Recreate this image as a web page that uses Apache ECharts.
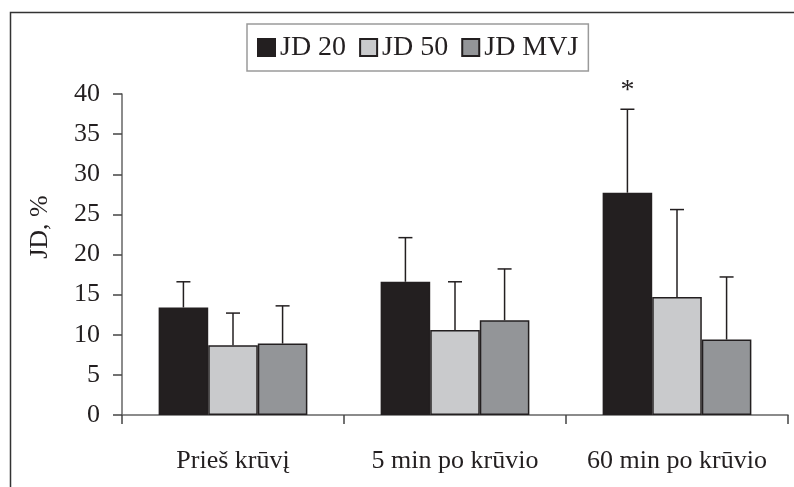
<!DOCTYPE html>
<html>
<head>
<meta charset="utf-8">
<script src="https://cdn.jsdelivr.net/npm/echarts@6/dist/echarts.min.js"></script>
<style>html,body{margin:0;padding:0;background:#fff;}#c{width:794px;height:487px;}</style>
</head>
<body>
<div id="c"></div>
<script>
const categories = ['Prieš krūvį', '5 min po krūvio', '60 min po krūvio'];
const seriesNames = ['JD 20', 'JD 50', 'JD MVJ'];
const jd20 = [13.4, 16.6, 27.7];
const jd50 = [8.7, 10.6, 14.7];
const jdMvj = [8.9, 11.8, 9.4];
const jd20Err = [3.2, 5.5, 10.4];
const jd50Err = [4.0, 6.0, 10.9];
const jdMvjErr = [4.7, 6.4, 7.8];
const jd20Sig = ['', '', '*'];
const jd50Sig = ['', '', ''];
const jdMvjSig = ['', '', ''];
const yTicks = [0, 5, 10, 15, 20, 25, 30, 35, 40];
const yTitle = 'JD, %';

const colors = ['#231f20', '#c9cacc', '#939598'];
const FONT = "'Liberation Serif', 'Times New Roman', serif";
const CAT_GAP = 0.33;

const values = [jd20, jd50, jdMvj];
const errs = [jd20Err, jd50Err, jdMvjErr];
const sigs = [jd20Sig, jd50Sig, jdMvjSig];

const barSeries = seriesNames.map((n, i) => ({
  name: n,
  type: 'bar',
  data: values[i],
  barGap: '0%',
  barCategoryGap: (CAT_GAP * 100) + '%',
  itemStyle: { color: colors[i], borderColor: '#231f20', borderWidth: 1.5 },
  z: 2
}));

const errSeries = seriesNames.map((n, i) => ({
  type: 'custom',
  name: n + ' err',
  z: 3,
  data: values[i].map((v, k) => [k, v, v + errs[i][k]]),
  renderItem: function (params, api) {
    const k = api.value(0);
    const band = api.size([1, 0])[0];
    const bw = band * (1 - CAT_GAP) / 3;
    const base = api.coord([k, api.value(1)]);
    const top = api.coord([k, api.value(2)]);
    const x = base[0] + (i - 1) * bw;
    const capHalf = 7;
    const children = [
      { type: 'line', shape: { x1: x, y1: base[1], x2: x, y2: top[1] }, style: { stroke: '#231f20', lineWidth: 1.5 } },
      { type: 'line', shape: { x1: x - capHalf, y1: top[1], x2: x + capHalf, y2: top[1] }, style: { stroke: '#231f20', lineWidth: 1.5 } }
    ];
    const s = sigs[i][k];
    if (s) {
      children.push({ type: 'text', style: { text: s, x: x, y: top[1] - 19, align: 'center', verticalAlign: 'middle', font: '28px ' + FONT, fill: '#231f20' } });
    }
    return { type: 'group', children: children };
  },
  tooltip: { show: false }
}));

const chart = echarts.init(document.getElementById('c'), null, { renderer: 'canvas' });
chart.setOption({
  animation: false,
  backgroundColor: '#fff',
  textStyle: { fontFamily: FONT },
  legend: {
    data: seriesNames,
    left: 247,
    top: 24,
    padding: [8, 10, 8, 10],
    itemGap: 13,
    itemWidth: 17,
    itemHeight: 17,
    borderColor: '#9a9a9a',
    borderWidth: 1.5,
    icon: 'rect',
    textStyle: { fontFamily: FONT, fontSize: 28, color: '#231f20', lineHeight: 31 }
  },
  grid: { left: 122, right: 6, top: 94, bottom: 72 },
  xAxis: {
    type: 'category',
    data: categories,
    axisLine: { lineStyle: { color: '#666', width: 1.5 } },
    axisTick: { show: true, length: 9, lineStyle: { color: '#444', width: 1.5 } },
    axisLabel: { interval: 0, fontFamily: FONT, fontSize: 26, color: '#231f20', margin: 33 }
  },
  yAxis: {
    type: 'value',
    min: yTicks[0],
    max: yTicks[yTicks.length - 1],
    interval: yTicks[1] - yTicks[0],
    splitLine: { show: false },
    axisLine: { show: true, lineStyle: { color: '#666', width: 1.5 } },
    axisTick: { show: true, length: 9, lineStyle: { color: '#444', width: 1.5 } },
    axisLabel: { fontFamily: FONT, fontSize: 26, color: '#231f20', margin: 22 }
  },
  graphic: [
    { type: 'rect', left: 8, top: 10, shape: { x: 0, y: 0, width: 800, height: 500 }, style: { fill: 'none', stroke: '#333', lineWidth: 1.5 }, silent: true, z: -1 },
    { type: 'text', x: 40, y: 227, rotation: Math.PI / 2, style: { text: yTitle, font: '26px ' + FONT, fill: '#231f20', align: 'center', verticalAlign: 'middle' } }
  ],
  series: barSeries.concat(errSeries)
});
</script>
</body>
</html>
